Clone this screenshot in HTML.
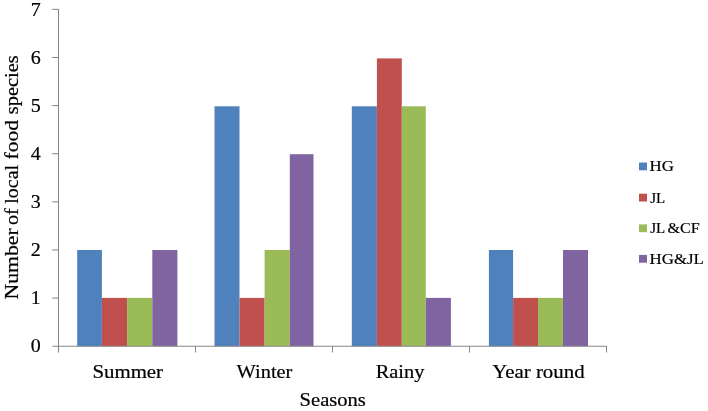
<!DOCTYPE html><html><head><meta charset="utf-8"><title>Chart</title><style>html,body{margin:0;padding:0;background:#fff}svg{display:block}text{font-family:"Liberation Serif","Times New Roman",serif;fill:#000;stroke:#000;stroke-width:0.2px}</style></head><body>
<svg width="708" height="411" viewBox="0 0 708 411">
<rect width="708" height="411" fill="#fff"/>
<rect x="77.2" y="250.0" width="24.7" height="96.2" fill="#4F81BD"/>
<rect x="101.9" y="297.9" width="25.2" height="48.3" fill="#C0504D"/>
<rect x="127.1" y="297.9" width="25.2" height="48.3" fill="#9BBB59"/>
<rect x="152.3" y="250.0" width="25.1" height="96.2" fill="#8064A2"/>
<rect x="214.5" y="106.3" width="25.0" height="239.9" fill="#4F81BD"/>
<rect x="239.5" y="297.9" width="25.1" height="48.3" fill="#C0504D"/>
<rect x="264.6" y="250.0" width="25.2" height="96.2" fill="#9BBB59"/>
<rect x="289.8" y="154.2" width="23.7" height="192.0" fill="#8064A2"/>
<rect x="351.8" y="106.3" width="25.1" height="239.9" fill="#4F81BD"/>
<rect x="376.9" y="58.4" width="24.9" height="287.8" fill="#C0504D"/>
<rect x="401.8" y="106.3" width="24.0" height="239.9" fill="#9BBB59"/>
<rect x="425.8" y="297.9" width="25.1" height="48.3" fill="#8064A2"/>
<rect x="488.9" y="250.0" width="24.2" height="96.2" fill="#4F81BD"/>
<rect x="513.1" y="297.9" width="24.9" height="48.3" fill="#C0504D"/>
<rect x="538.0" y="297.9" width="25.0" height="48.3" fill="#9BBB59"/>
<rect x="563.0" y="250.0" width="25.0" height="96.2" fill="#8064A2"/>
<g stroke="#868686" stroke-width="1.05" fill="none">
<line x1="58.5" y1="8.9" x2="58.5" y2="352.6"/>
<line x1="52.5" y1="346.2" x2="607.0" y2="346.2"/>
<line x1="52.2" y1="298.08" x2="58.5" y2="298.08"/>
<line x1="52.2" y1="249.96" x2="58.5" y2="249.96"/>
<line x1="52.2" y1="201.84" x2="58.5" y2="201.84"/>
<line x1="52.2" y1="153.72" x2="58.5" y2="153.72"/>
<line x1="52.2" y1="105.60" x2="58.5" y2="105.60"/>
<line x1="52.2" y1="57.48" x2="58.5" y2="57.48"/>
<line x1="52.2" y1="9.36" x2="58.5" y2="9.36"/>
<line x1="195.5" y1="346.2" x2="195.5" y2="352.5"/>
<line x1="332.5" y1="346.2" x2="332.5" y2="352.5"/>
<line x1="469.5" y1="346.2" x2="469.5" y2="352.5"/>
<line x1="606.5" y1="346.2" x2="606.5" y2="352.5"/>
</g>
<text transform="translate(40.6,352.40) scale(1.05,1)" font-size="19" text-anchor="end">0</text>
<text transform="translate(40.6,304.34) scale(1.05,1)" font-size="19" text-anchor="end">1</text>
<text transform="translate(40.6,256.28) scale(1.05,1)" font-size="19" text-anchor="end">2</text>
<text transform="translate(40.6,208.22) scale(1.05,1)" font-size="19" text-anchor="end">3</text>
<text transform="translate(40.6,160.16) scale(1.05,1)" font-size="19" text-anchor="end">4</text>
<text transform="translate(40.6,112.10) scale(1.05,1)" font-size="19" text-anchor="end">5</text>
<text transform="translate(40.6,64.04) scale(1.05,1)" font-size="19" text-anchor="end">6</text>
<text transform="translate(40.6,15.98) scale(1.05,1)" font-size="19" text-anchor="end">7</text>
<text transform="translate(127.75,377.6) scale(1.097,1)" font-size="19" text-anchor="middle">Summer</text>
<text transform="translate(264.5,377.6) scale(1.074,1)" font-size="19" text-anchor="middle">Winter</text>
<text transform="translate(400.0,377.6) scale(1.074,1)" font-size="19" text-anchor="middle">Rainy</text>
<text transform="translate(538.4,377.6) scale(1.1,1)" font-size="19" text-anchor="middle">Year round</text>
<text transform="translate(332.7,405.7) scale(1.084,1)" font-size="19" text-anchor="middle">Seasons</text>
<text transform="translate(18.3,263.9) rotate(-90) scale(1.145,1)" font-size="19" text-anchor="middle">Number</text>
<text transform="translate(18.3,216.6) rotate(-90) scale(1.06,1)" font-size="19" text-anchor="middle">of</text>
<text transform="translate(18.3,184.3) rotate(-90) scale(1.05,1)" font-size="19" text-anchor="middle">local</text>
<text transform="translate(18.3,139.8) rotate(-90) scale(1.135,1)" font-size="19" text-anchor="middle">food</text>
<text transform="translate(18.3,84.8) rotate(-90) scale(1.075,1)" font-size="19" text-anchor="middle">species</text>
<rect x="639" y="162.5" width="8" height="7.8" fill="#4F81BD"/>
<text transform="translate(649.6,171.4) scale(1.08,1)" font-size="15.6">HG</text>
<rect x="639" y="193.7" width="8" height="7.8" fill="#C0504D"/>
<text transform="translate(650.2,202.6) scale(0.96,1)" font-size="15.6">JL</text>
<rect x="639" y="224.4" width="8" height="7.8" fill="#9BBB59"/>
<text transform="translate(650.2,233.3) scale(0.96,1)" font-size="15.6">JL</text>
<text transform="translate(667.6,233.3) scale(1.03,1)" font-size="15.6">&amp;CF</text>
<rect x="639" y="254.9" width="8" height="7.8" fill="#8064A2"/>
<text transform="translate(649.6,263.8) scale(1.08,1)" font-size="15.6">HG&amp;JL</text>
</svg></body></html>
